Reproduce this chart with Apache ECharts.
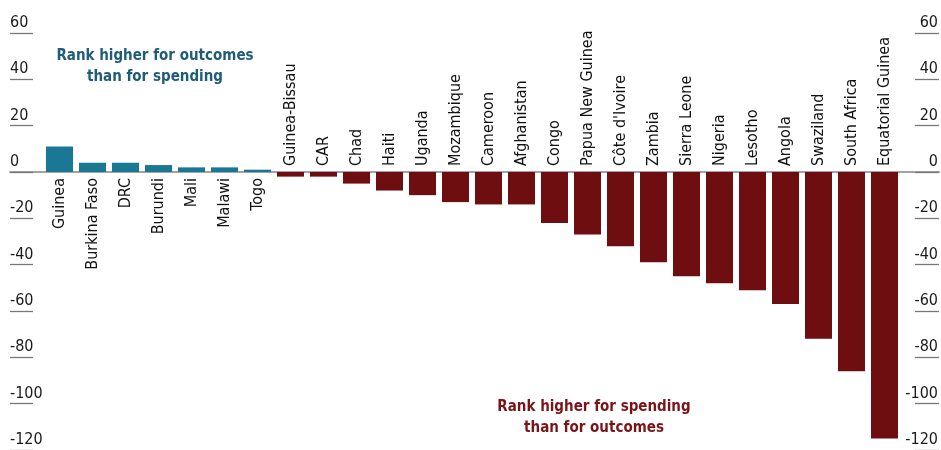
<!DOCTYPE html>
<html>
<head>
<meta charset="utf-8">
<script src="https://cdn.jsdelivr.net/npm/echarts@6/dist/echarts.min.js"></script>
<style>
html,body{margin:0;padding:0;background:#fff;}
#chart{width:941px;height:450px;}
</style>
</head>
<body>
<div id="chart"></div>
<script>
var categories = ["Guinea","Burkina Faso","DRC","Burundi","Mali","Malawi","Togo",
  "Guinea-Bissau","CAR","Chad","Haiti","Uganda","Mozambique","Cameroon","Afghanistan",
  "Congo","Papua New Guinea","Côte d'Ivoire","Zambia","Sierra Leone","Nigeria","Lesotho",
  "Angola","Swaziland","South Africa","Equatorial Guinea"];
var rankDiff = [11,4,4,3,2,2,1,
  -2,-2,-5,-8,-10,-13,-14,-14,
  -22,-27,-32,-39,-45,-48,-51,
  -57,-72,-86,-115];
var yTicks = [-120,-100,-80,-60,-40,-20,0,20,40,60];
var noteOutcomes = "Rank higher for outcomes\nthan for spending";
var noteSpending = "Rank higher for spending\nthan for outcomes";

var positive = rankDiff.map(function(v){ return v > 0 ? v : null; });
var negative = rankDiff.map(function(v){ return v < 0 ? v : null; });

var FONT = "DejaVu Sans Condensed";
var BLUE = "#1a7895";
var RED = "#6f0e11";

var chart = echarts.init(document.getElementById('chart'), null, {renderer:'canvas'});
var yMin = yTicks[0], yMax = yTicks[yTicks.length-1];

var option = {
  animation: false,
  backgroundColor: '#fff',
  textStyle: {fontFamily: FONT},
  title: [
    {text: noteOutcomes, left: 155, top: 46, textAlign: 'center', padding: 0,
     textStyle: {fontFamily: FONT, fontSize: 15, fontWeight: 'bold', color: '#1f5c78', lineHeight: 20.5}},
    {text: noteSpending, left: 594, top: 396, textAlign: 'center', padding: 0,
     textStyle: {fontFamily: FONT, fontSize: 15, fontWeight: 'bold', color: '#7a1418', lineHeight: 21.5}}
  ],
  grid: [
    {left: 10, right: 0, top: 33, height: 420, containLabel: false},
    {left: 43, right: 40, top: 33, height: 420, containLabel: false}
  ],
  xAxis: [
    {gridIndex: 0, type: 'value', min: 0, max: 1,
     axisLine: {show: true, onZero: true, lineStyle: {color: '#a3a3a3', width: 2}},
     axisTick: {show: false}, axisLabel: {show: false}, splitLine: {show: false}},
    {gridIndex: 1, type: 'category', data: categories, show: false}
  ],
  yAxis: [
    {gridIndex: 0, type: 'value', position: 'left', min: yMin, max: yMax, interval: 20,
     axisLine: {show: false}, splitLine: {show: false},
     axisTick: {show: true, inside: true, length: 23, lineStyle: {color: '#777', width: 1.3}},
     axisLabel: {show: true, inside: true, margin: 0, align: 'left', verticalAlign: 'bottom',
       fontFamily: FONT, fontSize: 16, color: '#1a1a1a', padding: [0,0,2,0]}},
    {gridIndex: 0, type: 'value', position: 'right', min: yMin, max: yMax, interval: 20,
     axisLine: {show: false}, splitLine: {show: false},
     axisTick: {show: true, inside: true, length: 24, lineStyle: {color: '#777', width: 1.3}},
     axisLabel: {show: true, inside: true, margin: 1, align: 'right', verticalAlign: 'bottom',
       fontFamily: FONT, fontSize: 16, color: '#1a1a1a', padding: [0,0,2,0]}},
    {gridIndex: 1, type: 'value', min: yMin, max: yMax, show: false}
  ],
  series: [
    {type: 'bar', xAxisIndex: 1, yAxisIndex: 2, data: positive, barWidth: 27, barGap: '-100%',
     itemStyle: {color: BLUE},
     label: {show: true, position: 'bottom', distance: 6, rotate: 90, align: 'right', verticalAlign: 'middle',
       formatter: '{b}', fontFamily: FONT, fontSize: 16, color: '#111'}},
    {type: 'bar', xAxisIndex: 1, yAxisIndex: 2, data: negative, barWidth: 27, barGap: '-100%',
     itemStyle: {color: RED},
     label: {show: true, position: 'top', distance: 6, rotate: 90, align: 'left', verticalAlign: 'middle',
       formatter: '{b}', fontFamily: FONT, fontSize: 16, color: '#111'}}
  ]
};
chart.setOption(option);
</script>
</body>
</html>
